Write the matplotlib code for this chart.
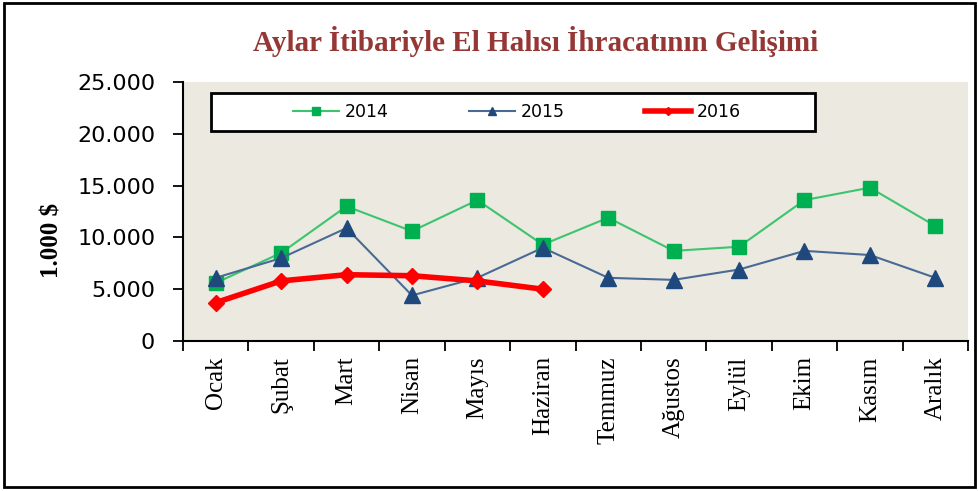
import matplotlib.pyplot as plt
from matplotlib.patches import Rectangle

months = ['Ocak', 'Şubat', 'Mart', 'Nisan', 'Mayıs', 'Haziran',
          'Temmuz', 'Ağustos', 'Eylül', 'Ekim', 'Kasım', 'Aralık']
y2014 = [5600, 8500, 13000, 10600, 13600, 9300, 11900, 8700, 9100, 13600, 14800, 11100]
y2015 = [6100, 8000, 10900, 4400, 6100, 9000, 6100, 5900, 6900, 8700, 8300, 6100]
y2016 = [3700, 5800, 6400, 6300, 5800, 5000]
yticks = [0, 5000, 10000, 15000, 20000, 25000]
ytick_labels = ['0', '5.000', '10.000', '15.000', '20.000', '25.000']

fig = plt.figure(figsize=(9.79, 4.91), dpi=100)
ax = fig.add_axes([0.1869, 0.3055, 0.8019, 0.5275])
ax.set_facecolor('#ECE9E0')

x = list(range(len(months)))
ax.plot(x, y2014, color='#3CC46E', lw=1.5, marker='s', ms=9.5,
        mfc='#00B050', mec='#00B050', label='2014', zorder=3)
ax.plot(x, y2015, color='#4A6A96', lw=1.5, marker='^', ms=11,
        mfc='#1F497D', mec='#1F497D', label='2015', zorder=4)
ax.plot(x[:len(y2016)], y2016, color='#FF0000', lw=4, marker='D', ms=8,
        mfc='#FF0000', mec='#FF0000', label='2016', zorder=5)

ax.set_xlim(-0.5, len(months) - 0.5)
ax.set_ylim(0, 25000)
ax.set_yticks(yticks)
ax.set_yticklabels(ytick_labels, fontsize=16, family='DejaVu Sans')
ax.tick_params(axis='y', direction='out', length=7, width=1.3, pad=13)

# category boundaries as major ticks, labels on minor ticks at centres
ax.set_xticks([i - 0.5 for i in range(len(months) + 1)])
ax.set_xticklabels([])
ax.set_xticks(x, minor=True)
ax.set_xticklabels(months, minor=True, rotation=90, fontsize=18,
                   family='Liberation Serif', va='top')
ax.tick_params(axis='x', which='major', direction='out', length=7, width=1.3)
ax.tick_params(axis='x', which='minor', length=0, pad=11)

for s in ['top', 'right']:
    ax.spines[s].set_visible(False)
for s in ['left', 'bottom']:
    ax.spines[s].set_linewidth(1.5)

# legend box
ax.add_patch(Rectangle((0.0357, 0.811), 0.769, 0.147, transform=ax.transAxes,
                       facecolor='white', edgecolor='black', lw=2, zorder=6))
leg = ax.legend(loc='center', bbox_to_anchor=(0.4255, 0.884), ncol=3,
                frameon=False, handlelength=2.65, handletextpad=0.3,
                columnspacing=4.65, prop={'family': 'DejaVu Sans', 'size': 12.5})
leg.set_zorder(7)
for h, ms, lw in zip(leg.legend_handles, [6, 6, 4], [1.5, 1.5, 4]):
    h.set_markersize(ms)
    h.set_linewidth(lw)

fig.text(0.547, 0.9145, 'Aylar İtibariyle El Halısı İhracatının Gelişimi',
         ha='center', va='center', fontsize=21, fontweight='bold',
         family='Liberation Serif', color='#953735')
fig.text(0.053, 0.511, '1.000 $', rotation=90, ha='center', va='center',
         fontsize=18, fontweight='bold', family='Liberation Serif')

fig.patches.append(Rectangle((0.004, 0.008), 0.992, 0.986, transform=fig.transFigure,
                             fill=False, edgecolor='black', lw=2))

fig.savefig('out.png', dpi=100)
